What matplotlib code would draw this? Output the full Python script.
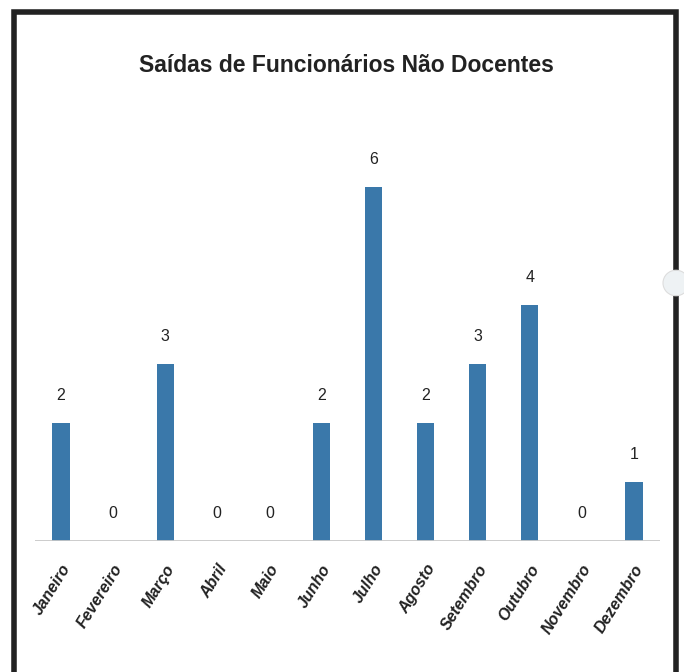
import matplotlib.pyplot as plt
from matplotlib.patches import Rectangle, Circle

plt.rcParams['font.family'] = ['Liberation Sans Narrow', 'Liberation Sans', 'DejaVu Sans']

meses = ['Janeiro', 'Fevereiro', 'Março', 'Abril', 'Maio', 'Junho',
         'Julho', 'Agosto', 'Setembro', 'Outubro', 'Novembro', 'Dezembro']
saidas = [2, 0, 3, 0, 0, 2, 6, 2, 3, 4, 0, 1]
titulo = 'Saídas de Funcionários Não Docentes'

W, H = 684, 672
fig = plt.figure(figsize=(W / 100, H / 100), dpi=100)

# moldura escura (digitalizacao), sem linha em baixo
fig.patches.append(Rectangle((14 / W, -0.05), (662 / W), 0.05 + 660 / H, transform=fig.transFigure,
                             fill=False, edgecolor='#222222', linewidth=4, zorder=0))
fig.patches.append(Circle((676 / W, (H - 283) / H), 13 / W, transform=fig.transFigure,
                          facecolor='#eef2f4', edgecolor='#dddddd', linewidth=0.8, zorder=1))

ax = fig.add_axes([35 / W, (H - 541) / H, 625 / W, 413 / H])
x = range(len(meses))
ax.bar(x, saidas, width=0.33, color='#3a78aa')
ax.set_xlim(-0.5, 11.5)
ax.set_ylim(0, 7)
ax.axhline(0, color='#c8c8c8', linewidth=2)

for i, v in zip(x, saidas):
    ax.annotate(str(v), (i, v), xytext=(0, 20), textcoords='offset points',
                ha='center', va='center', fontsize=11.5, color='#222222')

ax.set_xticks(list(x))
ax.set_xticklabels(meses, rotation=58, ha='right', va='top', rotation_mode='anchor',
                   fontsize=11.5, fontweight='bold', fontstyle='italic', color='#222222')
ax.tick_params(axis='x', length=0, pad=15)
ax.set_yticks([])
for s in ax.spines.values():
    s.set_visible(False)

fig.text(346 / W, (H - 66) / H, titulo, ha='center', va='center',
         fontsize=16.5, fontweight='bold', color='#222222')

fig.savefig('out.png', dpi=100)
